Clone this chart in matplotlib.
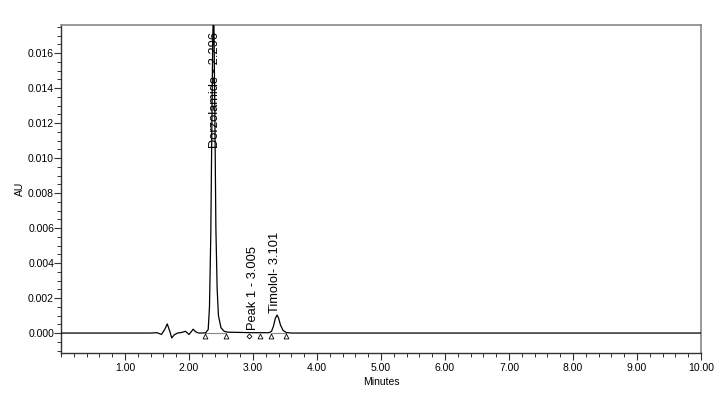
import matplotlib
matplotlib.use("Agg")
import matplotlib.pyplot as plt
from matplotlib.ticker import MultipleLocator, FormatStrFormatter

plt.rcParams['font.family'] = ['Liberation Sans', 'DejaVu Sans']

# Chromatogram trace
time_min = [0.0, 1.40, 1.50, 1.57, 1.62, 1.66, 1.70, 1.73, 1.77, 1.82, 1.88, 1.945,
            2.00, 2.04, 2.065, 2.10, 2.15, 2.20, 2.26, 2.30, 2.32, 2.34, 2.355, 2.37,
            2.38, 2.39, 2.405, 2.42, 2.44, 2.46, 2.50, 2.55, 2.60, 3.00, 3.25, 3.29,
            3.32, 3.35, 3.376, 3.40, 3.43, 3.47, 3.52, 3.60, 10.0]
au = [0.0, 0.0, 0.00002, -0.00008, 0.0002, 0.00052, 0.0001, -0.00028, -0.0001, 0.0,
      0.00003, 0.0001, -0.00008, 0.0001, 0.00022, 0.00008, 0.0, 0.0, 0.00002, 0.0002,
      0.0015, 0.0055, 0.011, 0.0165, 0.0185, 0.0175, 0.012, 0.006, 0.0025, 0.0010,
      0.0003, 0.0001, 0.00005, 0.00002, 0.00002, 0.0001, 0.0004, 0.00085, 0.00103,
      0.00085, 0.00045, 0.00015, 0.00003, 0.0, 0.0]

# Peak labels
label_text = ["Dorzolamide - 2.296", "Peak 1 - 3.005", "Timolol- 3.101"]
label_x = [2.41, 3.005, 3.35]
label_y = [0.01057, 0.00017, 0.00114]

# Integration markers (start, end)
tri_x = [2.257, 2.58, 3.105, 3.28, 3.52]
diamond_x = [2.93]
marker_y = -0.00019
baseline_pairs = [(2.257, 2.58), (3.28, 3.52)]

fig = plt.figure(figsize=(7.27, 3.94), dpi=100)
ax = fig.add_axes([61/727, 1-353/394, 640/727, 328/394])

ax.plot(time_min, au, color='black', lw=0.9, zorder=3)
for a, b in baseline_pairs:
    ax.plot([a, b], [0, 0], color='#888888', lw=0.8, zorder=2)
ax.plot(tri_x, [marker_y]*len(tri_x), linestyle='none', marker='^', ms=3.5,
        mfc='white', mec='black', mew=0.6, zorder=4, clip_on=False)
ax.plot(diamond_x, [marker_y]*len(diamond_x), linestyle='none', marker='D', ms=2.5,
        mfc='white', mec='black', mew=0.6, zorder=4, clip_on=False)

for t, x, y in zip(label_text, label_x, label_y):
    ax.text(x, y, t, rotation=90, ha='center', va='bottom', fontsize=9.3, zorder=5)

ax.set_xlim(0, 10)
ax.set_ylim(-0.00114, 0.0176)
ax.xaxis.set_major_locator(MultipleLocator(1))
ax.xaxis.set_minor_locator(MultipleLocator(0.2))
ax.xaxis.set_major_formatter(FormatStrFormatter('%.2f'))
ax.yaxis.set_major_locator(MultipleLocator(0.002))
ax.yaxis.set_minor_locator(MultipleLocator(0.0005))
ax.yaxis.set_major_formatter(FormatStrFormatter('%.3f'))
xt = [1, 2, 3, 4, 5, 6, 7, 8, 9, 10]
ax.set_xticks(xt)
ax.tick_params(axis='both', which='major', labelsize=7.5, length=5, width=0.8, direction='out', colors='#333333')
ax.tick_params(axis='x', which='major', pad=2)
ax.tick_params(axis='y', which='major', pad=0)
ax.tick_params(axis='both', which='minor', length=3, width=0.7, direction='out', colors='#333333')
ax.tick_params(labelcolor='black')
for s in ['left', 'bottom']:
    ax.spines[s].set_color('#333333')
    ax.spines[s].set_linewidth(1.0)
for s in ['top', 'right']:
    ax.spines[s].set_color('#888888')
    ax.spines[s].set_linewidth(1.2)

ax.set_xlabel('Minutes', fontsize=7.5, labelpad=3)
ax.set_ylabel('AU', fontsize=7.5, labelpad=2)

fig.savefig('out.png', dpi=100)
